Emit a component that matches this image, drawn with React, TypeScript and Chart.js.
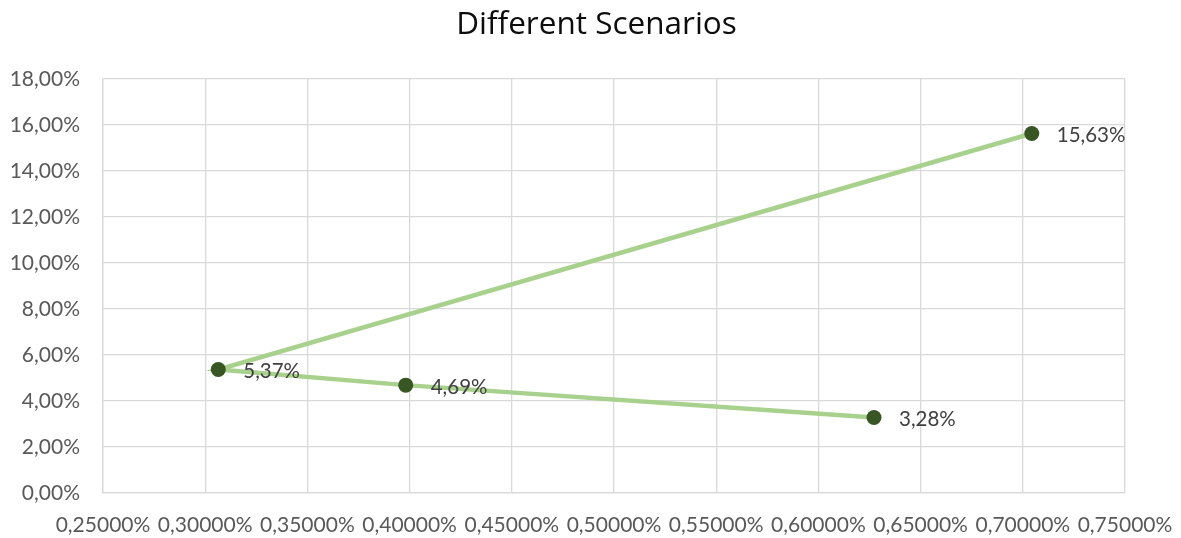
import React, { useEffect, useRef } from "react";
import { Chart, registerables } from "chart.js";

Chart.register(...registerables);

const chartTitle = "Different Scenarios";
const xValues = [0.7044, 0.3064, 0.3981, 0.6272];
const yValues = [15.63, 5.37, 4.69, 3.28];
const pointLabels = ["15,63%", "5,37%", "4,69%", "3,28%"];
const xMin = 0.25;
const xMax = 0.75;
const xStep = 0.05;
const yMin = 0;
const yMax = 18;
const yStep = 2;

const FONT = "Lato, 'Open Sans', sans-serif";
const TITLE_FONT = "'Open Sans', Lato, sans-serif";

const labelPlugin = {
  id: "pointLabels",
  afterDatasetsDraw(chart: any) {
    const ctx = chart.ctx;
    const meta = chart.getDatasetMeta(0);
    ctx.save();
    ctx.font = `20.5px ${FONT}`;
    ctx.fillStyle = "#404040";
    ctx.textAlign = "left";
    ctx.textBaseline = "middle";
    meta.data.forEach((pt: any, i: number) => {
      ctx.fillText(pointLabels[i], pt.x + 25, pt.y + 2);
    });
    ctx.restore();
  },
};

const titlePlugin = {
  id: "centeredTitle",
  afterDraw(chart: any) {
    const ctx = chart.ctx;
    ctx.save();
    ctx.font = `31.5px ${TITLE_FONT}`;
    ctx.fillStyle = "#0d0d0d";
    ctx.textAlign = "center";
    ctx.textBaseline = "alphabetic";
    ctx.fillText(chartTitle, chart.width / 2 + 6, 34);
    ctx.restore();
  },
};

export default function App() {
  const ref = useRef<HTMLCanvasElement | null>(null);
  useEffect(() => {
    if (!ref.current) return;
    const data = xValues.map((x, i) => ({ x, y: yValues[i] }));
    const chart = new Chart(ref.current, {
      type: "scatter",
      data: {
        datasets: [
          {
            label: "Scenarios",
            data,
            showLine: true,
            borderColor: "#a9d18e",
            borderWidth: 4.5,
            pointRadius: 7.5,
            pointBackgroundColor: "#375623",
            pointBorderColor: "#375623",
            pointBorderWidth: 0,
            tension: 0,
          },
        ],
      },
      options: {
        animation: false,
        responsive: false,
        maintainAspectRatio: false,
        layout: { padding: { left: 0, right: 56, top: 79, bottom: 0 } },
        plugins: {
          legend: { display: false },
          tooltip: { enabled: false },
          title: { display: false },
        },
        scales: {
          x: {
            type: "linear",
            min: xMin,
            max: xMax,
            afterFit: (s: any) => {
              s.height = 45;
              s.paddingLeft = 0;
              s.paddingRight = 0;
            },
            ticks: {
              stepSize: xStep,
              autoSkip: false,
              maxRotation: 0,
              minRotation: 0,
              padding: 20,
              color: "#595959",
              font: { family: FONT, size: 21 },
              callback: (v: any) => Number(v).toFixed(5).replace(".", ",") + "%",
            },
            grid: { color: "#d9d9d9", lineWidth: 1.3, drawTicks: false },
            border: { color: "#d9d9d9", width: 1.3 },
          },
          y: {
            type: "linear",
            min: yMin,
            max: yMax,
            afterFit: (s: any) => {
              s.width = 103;
              s.paddingTop = 0;
              s.paddingBottom = 0;
            },
            ticks: {
              stepSize: yStep,
              padding: 23,
              color: "#595959",
              font: { family: FONT, size: 21 },
              callback: (v: any) => Number(v).toFixed(2).replace(".", ",") + "%",
            },
            grid: { color: "#d9d9d9", lineWidth: 1.3, drawTicks: false },
            border: { color: "#d9d9d9", width: 1.3 },
          },
        },
      },
      plugins: [labelPlugin, titlePlugin],
    });
    return () => chart.destroy();
  }, []);
  return (
    <div style={{ position: "fixed", left: 0, top: 0, width: 1181, height: 538, background: "#fff" }}>
      <canvas ref={ref} width={1181} height={538} style={{ width: 1181, height: 538 }} />
    </div>
  );
}
